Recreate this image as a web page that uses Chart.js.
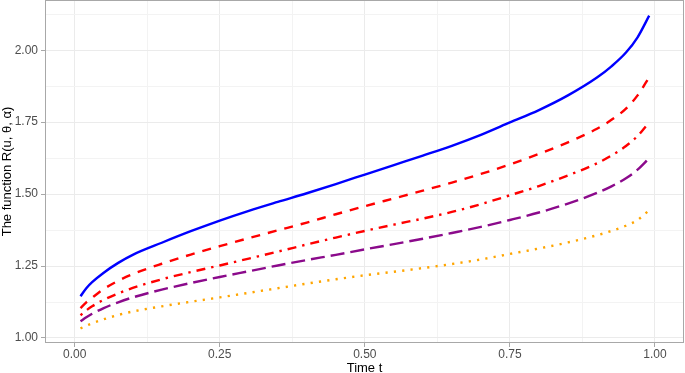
<!DOCTYPE html>
<html>
<head>
<meta charset="utf-8">
<script src="https://cdn.jsdelivr.net/npm/chart.js@4/dist/chart.umd.min.js"></script>
<style>
html,body{margin:0;padding:0;background:#fff;overflow:hidden}
#wrap{width:685px;height:373px;position:relative}
</style>
</head>
<body>
<div id="wrap"><canvas id="c" width="685" height="373"></canvas></div>
<script>
// ---- data ----
const timeT = [0.01,0.02,0.03,0.05,0.075,0.1,0.15,0.2,0.25,0.3,0.35,0.4,0.45,0.5,0.55,0.6,0.65,0.7,0.75,0.8,0.85,0.9,0.925,0.95,0.97,0.99];
const seriesSolid   = [1.145,1.173,1.194,1.227,1.261,1.289,1.331,1.371,1.408,1.442,1.473,1.503,1.535,1.568,1.601,1.634,1.668,1.706,1.749,1.792,1.843,1.905,1.944,1.992,2.045,2.120];
const seriesDashed  = [1.104,1.124,1.140,1.170,1.199,1.222,1.258,1.290,1.319,1.347,1.374,1.401,1.430,1.458,1.485,1.512,1.540,1.570,1.603,1.640,1.680,1.727,1.758,1.797,1.843,1.906];
const seriesDotDash = [1.079,1.096,1.110,1.133,1.155,1.174,1.204,1.229,1.252,1.276,1.300,1.325,1.349,1.372,1.394,1.415,1.438,1.465,1.496,1.528,1.565,1.607,1.634,1.667,1.702,1.750];
const seriesLongDash= [1.058,1.072,1.084,1.104,1.124,1.141,1.168,1.191,1.212,1.232,1.252,1.271,1.289,1.308,1.326,1.345,1.365,1.386,1.410,1.436,1.467,1.504,1.527,1.555,1.585,1.625];
const seriesDotted  = [1.033,1.043,1.051,1.065,1.080,1.092,1.110,1.126,1.141,1.157,1.173,1.189,1.204,1.218,1.230,1.243,1.257,1.273,1.292,1.311,1.332,1.357,1.372,1.390,1.410,1.444];
const xTickLabels = [0.00,0.25,0.50,0.75,1.00];
const yTickLabels = [1.00,1.25,1.50,1.75,2.00];
const xTitle = "Time t";
const yTitle = "The function R(u, \u03b8, \u03b1)";

// ---- build chart ----
const pts = ys => timeT.map((t,i)=>({x:t,y:ys[i]}));
function withMinor(major, extraAfter){
  const step = (major[1]-major[0])/2;
  const out = [];
  for (let i=0;i<major.length;i++){ out.push(major[i]); if (i<major.length-1 || extraAfter) out.push(major[i]+step); }
  return out;
}
const isMajor = (v, major) => major.some(m => Math.abs(m - v) < 1e-9);
const xAll = withMinor(xTickLabels, false);
const yAll = withMinor(yTickLabels, true);

const FONT = "'Liberation Sans', Arial, sans-serif";

const panelBorder = {
  id:'panelBorder',
  afterDatasetsDraw(chart){
    const {ctx, chartArea:a} = chart;
    ctx.save();
    ctx.strokeStyle = '#A8A8A8';
    ctx.lineWidth = 1;
    ctx.strokeRect(Math.round(a.left)+0.5, Math.round(a.top)+0.5, Math.round(a.right-a.left)-1, Math.round(a.bottom-a.top)-1);
    ctx.restore();
  }
};

const ds = (label, data, color, dash) => ({
  label, data: pts(data), borderColor: color, backgroundColor: color,
  borderWidth: 2.4, borderDash: dash, borderCapStyle: 'butt',
  pointRadius: 0, fill: false, cubicInterpolationMode: 'monotone'
});

new Chart(document.getElementById('c'), {
  type: 'line',
  data: { datasets: [
    ds('dotted', seriesDotted, '#FFA500', [2.2,6.2]),
    ds('longdash', seriesLongDash, '#8B0A8B', [14,6]),
    ds('dotdash', seriesDotDash, '#FF0000', [2.4,6,9,6]),
    ds('dashed', seriesDashed, '#FF0000', [9,8]),
    ds('solid', seriesSolid, '#0000FF', [])
  ]},
  options: {
    responsive: false, animation: false, devicePixelRatio: 1,
    layout: { padding: { top: 0, right: 1, left: 0, bottom: 0 } },
    plugins: { legend: { display: false }, tooltip: { enabled: false } },
    scales: {
      x: {
        type: 'linear', min: -0.0512, max: 1.05,
        afterBuildTicks: s => { s.ticks = xAll.map(v => ({value: v})); },
        afterFit: s => { s.height = 30; s.paddingLeft = 0; s.paddingRight = 0; },
        grid: {
          color: c => (c.tick && isMajor(c.tick.value, xTickLabels)) ? '#EBEBEB' : '#F3F3F3',
          tickColor: c => (c.tick && isMajor(c.tick.value, xTickLabels)) ? '#A8A8A8' : 'rgba(0,0,0,0)',
          tickLength: 4, lineWidth: 1
        },
        border: { display: false },
        ticks: {
          autoSkip: false, maxRotation: 0, padding: 0, color: '#4D4D4D',
          font: { family: FONT, size: 12 },
          callback: v => isMajor(v, xTickLabels) ? v.toFixed(2) : ''
        },
        title: { display: true, text: xTitle, color: '#000', font: { family: FONT, size: 13 }, padding: { top: 0, bottom: -3 } }
      },
      y: {
        type: 'linear', min: 0.9826, max: 2.1745,
        afterBuildTicks: s => { s.ticks = yAll.map(v => ({value: v})); },
        afterFit: s => { s.width = 45; s.paddingTop = 0; s.paddingBottom = 0; },
        grid: {
          color: c => (c.tick && isMajor(c.tick.value, yTickLabels)) ? '#EBEBEB' : '#F3F3F3',
          tickColor: c => (c.tick && isMajor(c.tick.value, yTickLabels)) ? '#A8A8A8' : 'rgba(0,0,0,0)',
          tickLength: 4, lineWidth: 1
        },
        border: { display: false },
        ticks: {
          autoSkip: false, padding: 3, color: '#4D4D4D',
          font: { family: FONT, size: 12 },
          callback: v => isMajor(v, yTickLabels) ? v.toFixed(2) : ''
        },
        title: { display: true, text: yTitle, color: '#000', font: { family: FONT, size: 13 }, padding: { top: 0, bottom: 0 } }
      }
    }
  },
  plugins: [panelBorder]
});
</script>
</body>
</html>
